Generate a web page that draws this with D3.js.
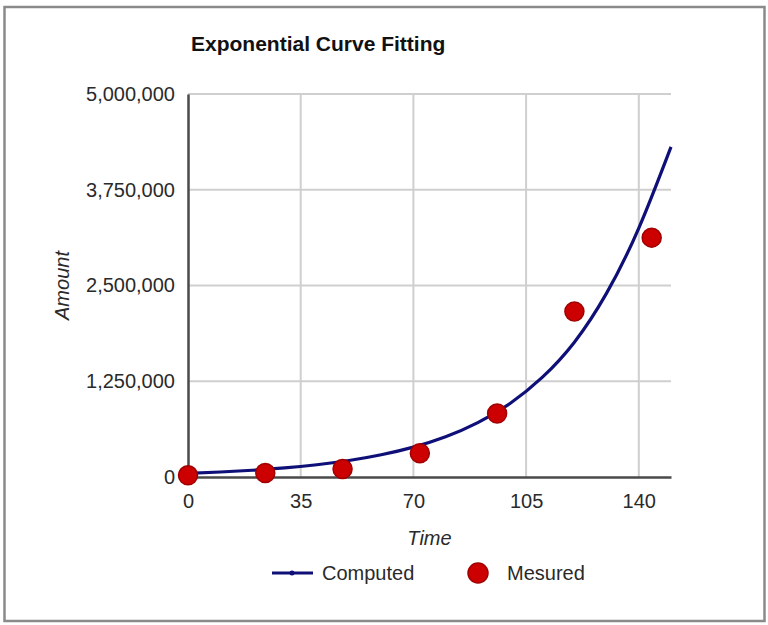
<!DOCTYPE html>
<html>
<head>
<meta charset="utf-8">
<script src="https://cdn.jsdelivr.net/npm/d3@7"></script>
<style>
  body { margin: 0; background: #fff; }
  svg text { font-family: "Liberation Sans", Arial, sans-serif; fill: #2a2a2a; }
</style>
</head>
<body>
<div id="chart"></div>
<script>
// measured points (time, amount)
var measuredTime = [0, 24, 48, 72, 96, 120, 144];
var measuredAmount = [22000, 52000, 104000, 310000, 828000, 2160000, 3125000];

// computed curve, every 10 time units
var computedTime = [0, 10, 20, 30, 40, 50, 60, 70, 80, 90, 100, 110, 120, 130, 140, 150];
var computedAmount = [48000, 65000, 88000, 118000, 160000, 215000, 290000, 390000,
                      525000, 710000, 960000, 1300000, 1760000, 2400000, 3250000, 4310000];

// tick labels
var xTicks = [0, 35, 70, 105, 140];
var yTicks = [0, 1250000, 2500000, 3750000, 5000000];

var chartTitle = 'Exponential Curve Fitting';
var xTitle = 'Time';
var yTitle = 'Amount';
var seriesNames = ['Computed', 'Mesured'];

// set dimensions
var W = 768, H = 625;
var margin = {top: 94, right: 97, bottom: 148, left: 188};
var width = W - margin.left - margin.right;
var height = H - margin.top - margin.bottom;

var svg = d3.select('#chart').append('svg')
    .attr('width', W)
    .attr('height', H);

// outer frame
svg.append('rect')
    .attr('x', 4.5).attr('y', 7)
    .attr('width', 760).attr('height', 614)
    .attr('fill', '#fff')
    .attr('stroke', '#8a8a8a')
    .attr('stroke-width', 2.5);

// title
svg.append('text')
    .attr('x', 191)
    .attr('y', 51)
    .style('font-size', '21px')
    .style('font-weight', 'bold')
    .style('fill', '#111')
    .text(chartTitle);

var g = svg.append('g')
    .attr('transform', 'translate(' + margin.left + ',' + margin.top + ')');

// scales
var xScale = d3.scaleLinear().domain([0, 150]).range([0, width]);
var yScale = d3.scaleLinear().domain([0, 5000000]).range([height, 0]);

// gridlines
g.append('g').selectAll('line.h')
    .data(yTicks.slice(1))
    .enter().append('line')
    .attr('x1', 0).attr('x2', width)
    .attr('y1', function(d){ return yScale(d); })
    .attr('y2', function(d){ return yScale(d); })
    .attr('stroke', '#cfcfcf')
    .attr('stroke-width', 2);

g.append('g').selectAll('line.v')
    .data(xTicks.slice(1))
    .enter().append('line')
    .attr('y1', 0).attr('y2', height)
    .attr('x1', function(d){ return xScale(d); })
    .attr('x2', function(d){ return xScale(d); })
    .attr('stroke', '#cfcfcf')
    .attr('stroke-width', 2);

// axes
var xAxis = d3.axisBottom(xScale)
    .tickValues(xTicks)
    .tickSize(0)
    .tickPadding(17);
var yAxis = d3.axisLeft(yScale)
    .tickValues(yTicks)
    .tickFormat(d3.format(','))
    .tickSize(0)
    .tickPadding(13);

var gx = g.append('g')
    .attr('transform', 'translate(0,' + height + ')')
    .call(xAxis);
var gy = g.append('g').call(yAxis);

[gx, gy].forEach(function(a){
    a.select('.domain').attr('stroke', '#4a4a4a').attr('stroke-width', 2.5);
    a.selectAll('text')
        .style('font-size', '20px')
        .style('font-family', '"Liberation Sans", Arial, sans-serif')
        .attr('fill', '#2a2a2a');
});

// axis titles
svg.append('text')
    .attr('x', margin.left + width / 2)
    .attr('y', 545)
    .attr('text-anchor', 'middle')
    .style('font-size', '20px')
    .style('font-style', 'italic')
    .text(xTitle);

svg.append('text')
    .attr('transform', 'translate(69,' + (margin.top + height / 2) + ') rotate(-90)')
    .attr('text-anchor', 'middle')
    .style('font-size', '20px')
    .style('font-style', 'italic')
    .text(yTitle);

// computed curve
var computed = computedTime.map(function(t, i){ return [t, computedAmount[i]]; });
g.append('path')
    .datum(computed)
    .attr('fill', 'none')
    .attr('stroke', '#0f0f78')
    .attr('stroke-width', 3.2)
    .attr('stroke-linejoin', 'round')
    .attr('d', d3.line()
        .curve(d3.curveNatural)
        .x(function(d){ return xScale(d[0]); })
        .y(function(d){ return yScale(d[1]); }));

// measured points
var measured = measuredTime.map(function(t, i){ return [t, measuredAmount[i]]; });
g.append('g').selectAll('circle')
    .data(measured)
    .enter().append('circle')
    .attr('cx', function(d){ return xScale(d[0]); })
    .attr('cy', function(d){ return yScale(d[1]); })
    .attr('r', 9.5)
    .attr('fill', '#cc0000')
    .attr('stroke', '#a00000')
    .attr('stroke-width', 1.5);

// legend
var leg = svg.append('g').attr('transform', 'translate(0,573)');
leg.append('line')
    .attr('x1', 272).attr('x2', 313)
    .attr('y1', 0).attr('y2', 0)
    .attr('stroke', '#0f0f78')
    .attr('stroke-width', 3.2);
leg.append('circle')
    .attr('cx', 292).attr('cy', 0).attr('r', 2.5)
    .attr('fill', '#0f0f78');
leg.append('text')
    .attr('x', 322).attr('y', 0)
    .attr('dy', '0.35em')
    .style('font-size', '20px')
    .text(seriesNames[0]);
leg.append('circle')
    .attr('cx', 478).attr('cy', 0).attr('r', 10)
    .attr('fill', '#cc0000')
    .attr('stroke', '#a00000')
    .attr('stroke-width', 1.5);
leg.append('text')
    .attr('x', 507).attr('y', 0)
    .attr('dy', '0.35em')
    .style('font-size', '20px')
    .text(seriesNames[1]);
</script>
</body>
</html>
